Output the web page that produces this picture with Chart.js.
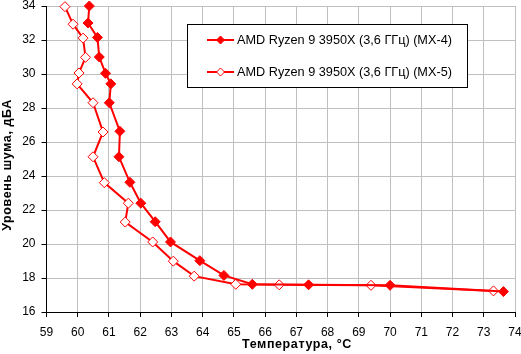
<!DOCTYPE html>
<html><head><meta charset="utf-8">
<script src="https://cdn.jsdelivr.net/npm/chart.js@4/dist/chart.umd.min.js"></script>
<style>html,body{margin:0;padding:0;background:#fff}#wrap{width:521px;height:354px}</style>
</head><body><div id="wrap"><canvas id="c" width="521" height="354"></canvas></div>
<script>
const seriesNames = ["AMD Ryzen 9 3950X (3,6 ГГц) (MX-4)", "AMD Ryzen 9 3950X (3,6 ГГц) (MX-5)"];
const mx4Temp = [60.37, 60.33, 60.63, 60.69, 60.89, 61.06, 61.01, 61.35, 61.32, 61.67, 62.02, 62.48, 62.97, 63.91, 64.68, 65.59, 67.39, 70.0, 73.63];
const mx4Noise = [34.0, 33.0, 32.15, 31.0, 30.04, 29.42, 28.31, 26.63, 25.13, 23.63, 22.4, 21.31, 20.12, 19.02, 18.15, 17.63, 17.6, 17.57, 17.2];
const mx5Temp = [59.59, 59.85, 60.17, 60.25, 60.04, 59.98, 60.49, 60.81, 60.49, 60.85, 61.62, 61.52, 62.4, 63.06, 63.73, 65.06, 66.45, 69.39, 73.31];
const mx5Noise = [33.96, 32.93, 32.11, 30.98, 30.06, 29.42, 28.31, 26.59, 25.13, 23.61, 22.4, 21.29, 20.12, 18.99, 18.11, 17.63, 17.6, 17.57, 17.24];
const xTitle = "Температура, °C";
const yTitle = "Уровень шума, дБА";

const toPts = (xs, ys) => xs.map((x, i) => ({x: x, y: ys[i]}));
const FONT = "'Liberation Sans', Arial, sans-serif";

const legendPlugin = {
  id: 'boxLegend',
  afterDraw(chart) {
    const ctx = chart.ctx;
    const x0 = 187.5, y0 = 24.5, w = 280, h = 63;
    ctx.save();
    ctx.fillStyle = '#fff';
    ctx.fillRect(x0, y0, w, h);
    ctx.strokeStyle = '#000';
    ctx.lineWidth = 1;
    ctx.strokeRect(x0, y0, w, h);
    chart.data.datasets.forEach((ds, i) => {
      const cy = 40 + i * 32;
      ctx.strokeStyle = '#ff0000';
      ctx.lineWidth = 2;
      ctx.beginPath(); ctx.moveTo(207, cy); ctx.lineTo(234, cy); ctx.stroke();
      const r = 4;
      ctx.beginPath();
      ctx.moveTo(220.5, cy - r); ctx.lineTo(220.5 + r, cy); ctx.lineTo(220.5, cy + r); ctx.lineTo(220.5 - r, cy); ctx.closePath();
      ctx.fillStyle = ds.pointBackgroundColor;
      ctx.fill();
      ctx.lineWidth = 1;
      ctx.stroke();
      ctx.fillStyle = '#000';
      ctx.font = '12.7px ' + FONT;
      ctx.textBaseline = 'middle';
      ctx.textAlign = 'left';
      ctx.fillText(ds.label, 237, cy);
    });
    // axis titles
    ctx.font = 'bold 12.5px ' + FONT;
    if ('letterSpacing' in ctx) ctx.letterSpacing = '0.6px';
    ctx.textAlign = 'center';
    ctx.textBaseline = 'middle';
    ctx.fillText(xTitle, 297, 344.5);
    ctx.translate(8, 165);
    ctx.rotate(-Math.PI / 2);
    ctx.fillText(yTitle, 0, 0);
    ctx.restore();
  }
};

new Chart(document.getElementById('c'), {
  type: 'scatter',
  data: {
    datasets: [
      {label: seriesNames[0], data: toPts(mx4Temp, mx4Noise), showLine: true, borderColor: '#ff0000', borderWidth: 2, clip: false,
       pointStyle: 'rectRot', pointRadius: 5, pointBackgroundColor: '#ff0000', pointBorderColor: '#ff0000', pointBorderWidth: 1, tension: 0},
      {label: seriesNames[1], data: toPts(mx5Temp, mx5Noise), showLine: true, borderColor: '#ff0000', borderWidth: 2, clip: false,
       pointStyle: 'rectRot', pointRadius: 5, pointBackgroundColor: '#ffffff', pointBorderColor: '#ff0000', pointBorderWidth: 1, tension: 0}
    ]
  },
  options: {
    responsive: false, animation: false, devicePixelRatio: 1,
    layout: {padding: {top: 5, right: 5.5, left: 0, bottom: 0}},
    plugins: {legend: {display: false}, tooltip: {enabled: false}},
    scales: {
      x: {
        type: 'linear', min: 59, max: 74,
        ticks: {stepSize: 1, color: '#000', font: {family: FONT, size: 12}, padding: 8, maxRotation: 0},
        grid: {color: '#c0c0c0', tickColor: '#000', tickLength: 5, lineWidth: 1},
        border: {color: '#000', width: 1},
        afterFit(s) { s.height = 42; s.paddingLeft = 0; s.paddingRight = 0; }
      },
      y: {
        type: 'linear', min: 16, max: 34,
        ticks: {stepSize: 2, color: '#000', font: {family: FONT, size: 12}, padding: 6},
        grid: {color: '#c0c0c0', tickColor: '#000', tickLength: 5, lineWidth: 1},
        border: {color: '#000', width: 1},
        afterFit(s) { s.width = 46.5; s.paddingTop = 0; s.paddingBottom = 0; }
      }
    }
  },
  plugins: [legendPlugin]
});
</script></body></html>
